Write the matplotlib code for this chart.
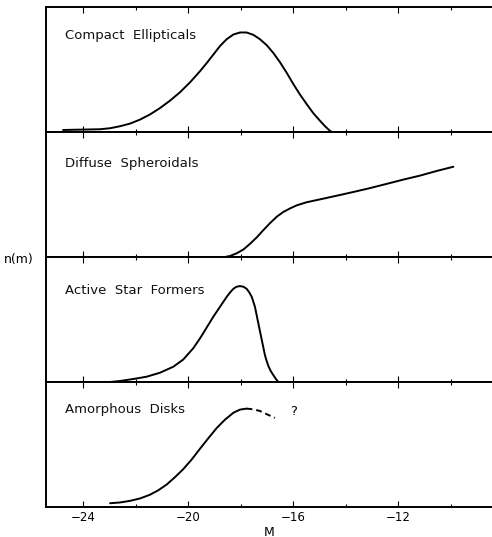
import numpy as np
import matplotlib
matplotlib.use('Agg')
import matplotlib.pyplot as plt
from matplotlib.ticker import MultipleLocator


# luminosity functions, read as (M, relative height in panel)
ce_m = [-24.76, -24.30, -23.80, -23.35, -22.97, -22.59, -22.21, -21.83, -21.45, -21.07,
        -20.69, -20.31, -19.92, -19.54, -19.29, -19.04, -18.78, -18.53, -18.27, -18.02,
        -17.77, -17.51, -17.26, -17.00, -16.75, -16.50, -16.24, -15.99, -15.73, -15.48,
        -15.23, -14.97, -14.78, -14.59, -14.51]
ce_n = [0.016, 0.018, 0.020, 0.022, 0.030, 0.046, 0.067, 0.099, 0.140, 0.191,
        0.250, 0.317, 0.398, 0.487, 0.551, 0.618, 0.688, 0.742, 0.780, 0.796,
        0.796, 0.777, 0.742, 0.694, 0.632, 0.559, 0.473, 0.384, 0.298, 0.223,
        0.151, 0.089, 0.046, 0.008, 0.0]

ds_m = [-18.59, -18.40, -18.15, -17.89, -17.64, -17.38, -17.13, -16.88, -16.62, -16.37,
        -16.11, -15.86, -15.48, -14.97, -14.34, -13.70, -13.07, -12.43, -11.80, -11.16,
        -10.53, -9.89]
ds_n = [0.0, 0.008, 0.029, 0.060, 0.105, 0.157, 0.215, 0.270, 0.322, 0.360,
        0.389, 0.413, 0.438, 0.461, 0.490, 0.520, 0.551, 0.585, 0.619, 0.651,
        0.688, 0.722]

asf_m = [-22.97, -22.59, -22.08, -21.58, -21.07, -20.56, -20.18, -19.80, -19.54, -19.29,
         -19.04, -18.78, -18.53, -18.40, -18.27, -18.15, -18.02, -17.89, -17.77, -17.67,
         -17.57, -17.45, -17.32, -17.19, -17.07, -17.00, -16.94, -16.85, -16.75, -16.65,
         -16.56]
asf_n = [0.0, 0.008, 0.024, 0.042, 0.074, 0.122, 0.180, 0.270, 0.350, 0.435,
         0.521, 0.602, 0.680, 0.716, 0.746, 0.762, 0.767, 0.762, 0.746, 0.718,
         0.680, 0.601, 0.468, 0.336, 0.215, 0.165, 0.128, 0.088, 0.055, 0.024,
         0.0]

ad_m = [-22.97, -22.59, -22.21, -21.83, -21.45, -21.13, -20.81, -20.50, -20.18, -19.86,
        -19.54, -19.23, -18.91, -18.59, -18.27, -18.02, -17.77]
ad_n = [0.030, 0.036, 0.049, 0.068, 0.098, 0.134, 0.180, 0.238, 0.303, 0.380,
        0.467, 0.549, 0.631, 0.699, 0.754, 0.779, 0.787]
# uncertain faint end (dashed)
ad_m_guess = [-17.77, -17.51, -17.26, -17.00, -16.69]
ad_n_guess = [0.787, 0.781, 0.768, 0.742, 0.713]

names = ['Compact  Ellipticals', 'Diffuse  Spheroidals', 'Active  Star  Formers', 'Amorphous  Disks']
name_y = [0.77, 0.75, 0.73, 0.78]

fig, axes = plt.subplots(4, 1, figsize=(4.92, 5.37), dpi=100, sharex=True)
fig.subplots_adjust(left=0.0935, right=1.0, top=0.987, bottom=0.0559, hspace=0)

curves = [(ce_m, ce_n), (ds_m, ds_n), (asf_m, asf_n), (ad_m, ad_n)]
for ax, (m, n), name, ty in zip(axes, curves, names, name_y):
    ax.plot(m, n, color='black', lw=1.4, solid_capstyle='round', solid_joinstyle='round')
    ax.text(0.043, ty, name, transform=ax.transAxes, fontsize=9.5,
            va='center', ha='left', color='#111111')
    ax.set_xlim(-25.41, -8.42)
    ax.set_ylim(0, 1.0)
    ax.set_yticks([])
    ax.spines['right'].set_visible(False)
    for s in ['left', 'top', 'bottom']:
        ax.spines[s].set_linewidth(1.4)
    ax.xaxis.set_major_locator(MultipleLocator(4))
    ax.xaxis.set_minor_locator(MultipleLocator(2))
    ax.tick_params(axis='x', which='both', direction='in', top=True, bottom=True,
                   labelbottom=False)
    ax.tick_params(axis='x', which='major', length=4, width=0.8)
    ax.tick_params(axis='x', which='minor', length=2, width=0.8)

ax = axes[3]
ax.plot(ad_m_guess, ad_n_guess, color='black', lw=1.4, ls=(0, (3, 2)))
ax.text(-16.0, 0.76, '?', fontsize=9.5, ha='center', va='center')
ax.set_xticks([-24, -20, -16, -12])
ax.tick_params(axis='x', which='major', labelbottom=True, labelsize=8.5, pad=3)
ax.set_xlabel('M', fontsize=9, labelpad=1)

fig.text(0.008, 1 - 259 / 537, 'n(m)', fontsize=9, ha='left', va='center')

plt.savefig('out.png', dpi=100)
